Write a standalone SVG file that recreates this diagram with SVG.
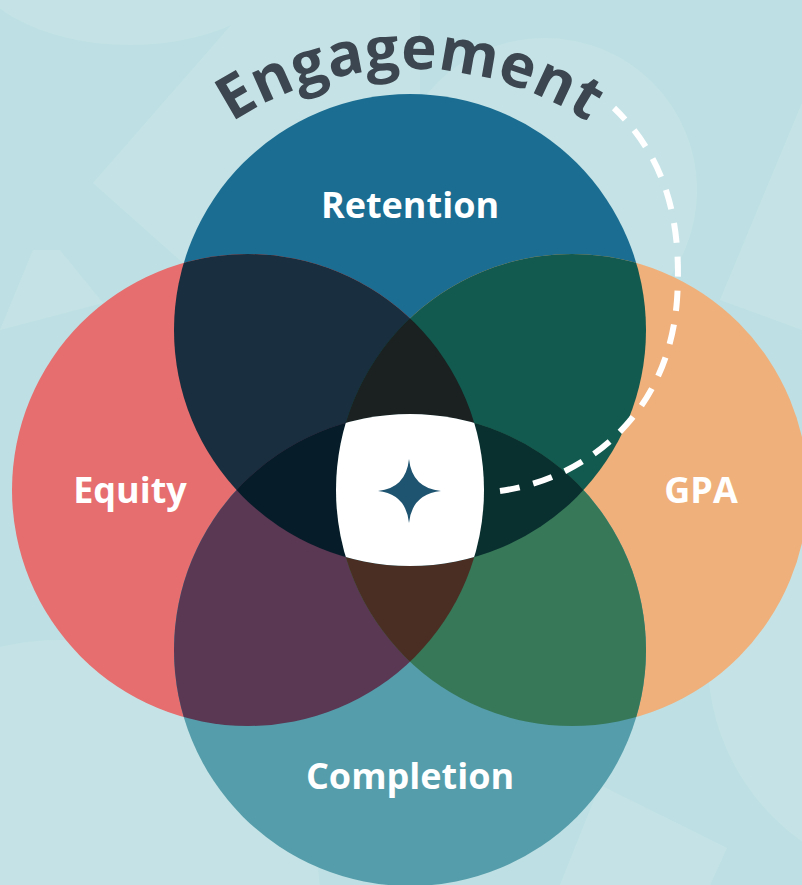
<svg xmlns="http://www.w3.org/2000/svg" width="802" height="885" viewBox="0 0 802 885">
  <style>
    .label { font-family: "Open Sans", "Noto Sans", "Liberation Sans", sans-serif; font-weight: 700; font-size: 36px; fill: #ffffff; text-anchor: middle; }
    .arc-title { font-family: "Open Sans", "Noto Sans", "Liberation Sans", sans-serif; font-weight: 700; font-size: 60px; letter-spacing: 0.5px; fill: #3c4650; }
    .bgshape { fill: #c5e3e6; }
  </style>
  <defs>
    <clipPath id="cR"><circle cx="410" cy="330" r="236"/></clipPath>
    <clipPath id="cE"><circle cx="248" cy="490" r="236"/></clipPath>
    <clipPath id="cG"><circle cx="572" cy="490" r="236"/></clipPath>
    <clipPath id="cC"><circle cx="410" cy="650" r="236"/></clipPath>
    <path id="titleArc" d="M 85,394 A 325 325 0 0 1 735,394"/>
  </defs>

  <!-- backdrop with soft lighter shapes -->
  <rect width="802" height="885" fill="#bee0e4"/>
  <g id="backdrop">
    <ellipse class="bgshape" cx="130" cy="-50" rx="165" ry="95"/>
    <polygon class="bgshape" points="93,183 253,0 420,0 420,120 183,263"/>
    <circle class="bgshape" cx="545" cy="190" r="152"/>
    <polygon class="bgshape" points="802,103 720,300 802,330"/>
    <circle class="bgshape" cx="930" cy="660" r="222"/>
    <polygon class="bgshape" points="600,785 727,848 710,885 560,885"/>
    <polygon class="bgshape" points="33,250 60,250 103,303 0,330"/>
    <circle class="bgshape" cx="60" cy="900" r="260"/>
  </g>

  <!-- base circles -->
  <g id="retention"><circle cx="410" cy="330" r="236" fill="#1b6d92"/></g>
  <g id="equity"><circle cx="248" cy="490" r="236" fill="#e66e6e"/></g>
  <g id="gpa"><circle cx="572" cy="490" r="236" fill="#efb07b"/></g>
  <g id="completion"><circle cx="410" cy="650" r="236" fill="#559daa"/></g>

  <!-- pairwise overlaps -->
  <g id="overlaps">
    <g clip-path="url(#cR)"><circle cx="248" cy="490" r="236" fill="#192e3e"/></g>
    <g clip-path="url(#cR)"><circle cx="572" cy="490" r="236" fill="#125a4f"/></g>
    <g clip-path="url(#cC)"><circle cx="248" cy="490" r="236" fill="#5a3753"/></g>
    <g clip-path="url(#cC)"><circle cx="572" cy="490" r="236" fill="#377859"/></g>
    <!-- three-way overlaps -->
    <g clip-path="url(#cR)"><g clip-path="url(#cE)"><circle cx="572" cy="490" r="236" fill="#1a2120"/></g></g>
    <g clip-path="url(#cC)"><g clip-path="url(#cE)"><circle cx="572" cy="490" r="236" fill="#4a2e23"/></g></g>
    <g clip-path="url(#cR)"><g clip-path="url(#cC)"><circle cx="248" cy="490" r="236" fill="#071c29"/></g></g>
    <g clip-path="url(#cR)"><g clip-path="url(#cC)"><circle cx="572" cy="490" r="236" fill="#0a2f2f"/></g></g>
  </g>

  <!-- centre where all four meet -->
  <g id="core">
    <g clip-path="url(#cR)"><g clip-path="url(#cE)"><g clip-path="url(#cG)"><circle cx="410" cy="650" r="236" fill="#ffffff"/></g></g></g>
    <path d="M409,459 Q412,488 441,491 Q412,494 409,523 Q406,494 378,491 Q406,488 409,459 Z" fill="#1f5470"/>
  </g>

  <!-- engagement path -->
  <g id="connectors">
    <path d="M500,491 C580,480 668,420 677,300 C682,225 668,160 614,108" fill="none" stroke="#ffffff" stroke-width="6" stroke-dasharray="20 14"/>
  </g>

  <g id="title">
    <text class="arc-title"><textPath href="#titleArc" startOffset="50%" text-anchor="middle">Engagement</textPath></text>
  </g>

  <g id="labels">
    <text class="label" x="410" y="218">Retention</text>
    <text class="label" x="130" y="503">Equity</text>
    <text class="label" x="701" y="503">GPA</text>
    <text class="label" x="410" y="789">Completion</text>
  </g>
</svg>
